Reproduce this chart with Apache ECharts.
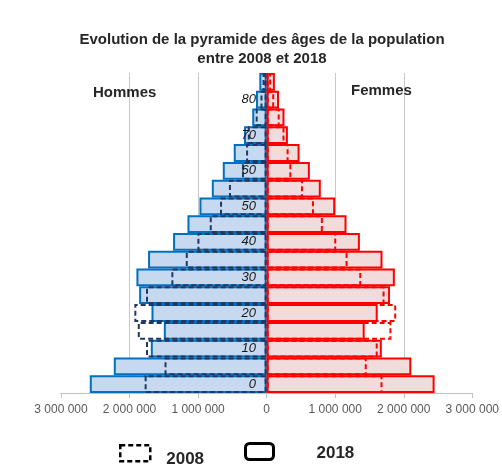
<!DOCTYPE html>
<html>
<head>
<meta charset="utf-8">
<script src="https://cdn.jsdelivr.net/npm/echarts@6/dist/echarts.min.js"></script>
<style>
  html, body { margin: 0; padding: 0; background: #fff; }
  #chart { width: 502px; height: 471px; }
</style>
</head>
<body>
<div id="chart"></div>
<script>
'use strict'
// age groups (5 years), bottom to top
var ages = ['0', '5', '10', '15', '20', '25', '30', '35', '40', '45', '50', '55', '60', '65', '70', '75', '80', '85']
// Hommes (drawn to the left)
var men2018 = [2580000, 2230000, 1690000, 1500000, 1680000, 1860000, 1900000, 1730000, 1365000, 1155000, 980000, 800000, 640000, 480000, 330000, 210000, 156000, 107000]
var men2008 = [1780000, 1490000, 1760000, 1880000, 1930000, 1760000, 1390000, 1180000, 1010000, 830000, 680000, 550000, 360000, 300000, 275000, 160000, 90000, 60000]
// Femmes (drawn to the right)
var women2018 = [2450000, 2110000, 1680000, 1430000, 1620000, 1800000, 1870000, 1690000, 1360000, 1165000, 1000000, 790000, 630000, 480000, 310000, 260000, 180000, 120000]
var women2008 = [1690000, 1460000, 1620000, 1820000, 1890000, 1720000, 1380000, 1180000, 1015000, 820000, 690000, 530000, 360000, 320000, 260000, 190000, 110000, 65000]

var fontName = 'Liberation Sans'

function neg (arr) {
  return arr.map(function (v) { return -v })
}

function fmt (v) {
  return String(Math.abs(v)).replace(/\B(?=(\d{3})+(?!\d))/g, ' ')
}

var chart = echarts.init(document.getElementById('chart'))

chart.setOption({
  animation: false,
  title: [
    {
      text: 'Evolution de la pyramide des âges de la population\nentre 2008 et 2018',
      left: 262,
      top: 30,
      padding: 0,
      textAlign: 'center',
      textStyle: { fontFamily: fontName, fontSize: 15, fontWeight: 'bold', color: '#262626', lineHeight: 19 }
    },
    {
      text: 'Hommes',
      left: 93,
      top: 85,
      padding: 0,
      textStyle: { fontFamily: fontName, fontSize: 15, fontWeight: 'bold', color: '#262626' }
    },
    {
      text: 'Femmes',
      left: 351,
      top: 83,
      padding: 0,
      textStyle: { fontFamily: fontName, fontSize: 15, fontWeight: 'bold', color: '#262626' }
    }
  ],
  legend: [
    {
      data: [{
        name: '2008',
        icon: 'rect',
        itemStyle: { color: 'rgba(0,0,0,0)', borderColor: '#000', borderWidth: 2.5, borderType: [5, 3] }
      }],
      left: 119,
      top: 444,
      padding: 0,
      itemWidth: 30,
      itemHeight: 16,
      selectedMode: false,
      formatter: '{a|{name}}',
      textStyle: {
        rich: {
          a: { fontFamily: fontName, fontSize: 17, fontWeight: 'bold', color: '#262626', padding: [12, 0, 0, 11] }
        }
      }
    },
    {
      data: [{
        name: '2018',
        icon: 'roundRect',
        itemStyle: { color: 'rgba(0,0,0,0)', borderColor: '#000', borderWidth: 3 }
      }],
      left: 244,
      top: 442,
      padding: 0,
      itemWidth: 28,
      itemHeight: 16,
      selectedMode: false,
      formatter: '{a|{name}}',
      textStyle: {
        rich: {
          a: { fontFamily: fontName, fontSize: 17, fontWeight: 'bold', color: '#262626', padding: [4, 0, 0, 38] }
        }
      }
    }
  ],
  grid: {
    left: 61,
    right: 25,
    top: 73,
    bottom: 78
  },
  xAxis: {
    type: 'value',
    min: -3000000,
    max: 3000000,
    interval: 1000000,
    axisLine: { show: true, lineStyle: { color: '#bfbfbf', width: 1 } },
    axisTick: { show: true, length: 5, lineStyle: { color: '#bfbfbf' } },
    axisLabel: {
      formatter: fmt,
      fontFamily: fontName,
      fontSize: 12,
      color: '#595959',
      margin: 11
    },
    splitLine: {
      show: true,
      lineStyle: {
        color: ['rgba(0,0,0,0)', '#c8c8c8', '#c8c8c8', '#c8c8c8', '#c8c8c8', '#c8c8c8', 'rgba(0,0,0,0)'],
        width: 1
      }
    }
  },
  yAxis: {
    type: 'category',
    data: ages,
    z: 10,
    // move the age labels onto the centre line
    offset: -208,
    axisLine: { show: false },
    axisTick: { show: false },
    axisLabel: {
      interval: 1,
      margin: 13,
      fontFamily: fontName,
      fontSize: 13,
      fontStyle: 'italic',
      color: '#1a1a1a'
    },
    splitLine: { show: false }
  },
  series: [
    {
      name: '2018',
      type: 'bar',
      data: neg(men2018),
      barGap: '-100%',
      barCategoryGap: '0%',
      itemStyle: { color: '#c6d9f1', borderColor: '#0070c0', borderWidth: 2 }
    },
    {
      name: '2018',
      type: 'bar',
      data: women2018,
      barGap: '-100%',
      barCategoryGap: '0%',
      itemStyle: { color: '#f2dcdb', borderColor: '#ff0000', borderWidth: 2 }
    },
    {
      name: '2008',
      type: 'bar',
      data: neg(men2008),
      barGap: '-100%',
      barCategoryGap: '0%',
      itemStyle: { color: 'rgba(0,0,0,0)', borderColor: '#1f3864', borderWidth: 2, borderType: [5, 3] }
    },
    {
      name: '2008',
      type: 'bar',
      data: women2008,
      barGap: '-100%',
      barCategoryGap: '0%',
      itemStyle: { color: 'rgba(0,0,0,0)', borderColor: '#ff0000', borderWidth: 2, borderType: [5, 3] }
    }
  ]
})
</script>
</body>
</html>
